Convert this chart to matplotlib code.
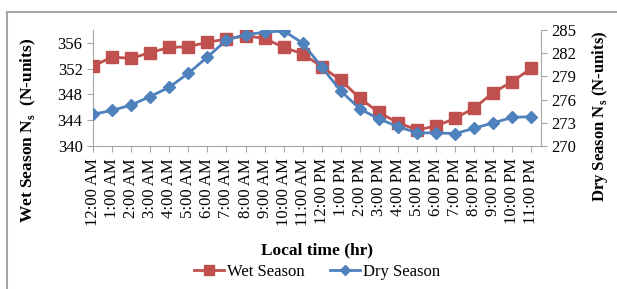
import matplotlib.pyplot as plt
from matplotlib.lines import Line2D

plt.rcParams['font.family'] = 'Liberation Serif'

# dados
horas = ['12:00 AM', '1:00 AM', '2:00 AM', '3:00 AM', '4:00 AM', '5:00 AM',
         '6:00 AM', '7:00 AM', '8:00 AM', '9:00 AM', '10:00 AM', '11:00 AM',
         '12:00 PM', '1:00 PM', '2:00 PM', '3:00 PM', '4:00 PM', '5:00 PM',
         '6:00 PM', '7:00 PM', '8:00 PM', '9:00 PM', '10:00 PM', '11:00 PM']
wet = [352.4, 353.8, 353.6, 354.5, 355.3, 355.4, 356.1, 356.6, 357.1, 356.7,
       355.3, 354.3, 352.3, 350.2, 347.4, 345.2, 343.6, 342.5, 343.1, 344.3,
       345.9, 348.3, 350.0, 352.1]
dry = [274.1, 274.6, 275.3, 276.4, 277.6, 279.4, 281.5, 283.7, 284.4, 284.7,
       284.9, 283.3, 280.2, 277.1, 274.8, 273.5, 272.5, 271.7, 271.7, 271.6,
       272.3, 273.0, 273.7, 273.8]

cor_wet = '#C0504D'
cor_dry = '#4F81BD'
cinza = '#A6A6A6'

fig = plt.figure(figsize=(6.17, 2.89), dpi=100)
ax = fig.add_axes([93/617, 1-146/289, (541-93)/617, (146-30)/289])
ax2 = ax.twinx()

x = list(range(len(horas)))
ax.plot(x, wet, color=cor_wet, marker='s', markersize=8, linewidth=2, zorder=3)
ax2.plot(x, dry, color=cor_dry, marker='D', markersize=6, linewidth=2, zorder=3)

ax.set_xlim(0, 23.5)
ax.set_ylim(340, 358)
ax.set_yticks([340, 344, 348, 352, 356])
ax2.set_ylim(270, 285)
ax2.set_yticks([270, 273, 276, 279, 282, 285])
ax.set_xticks(x)
ax.set_xticklabels(horas, rotation=90, fontsize=12)

for a in (ax, ax2):
    for s in a.spines.values():
        s.set_visible(False)
    a.tick_params(colors=cinza, labelcolor='black', labelsize=12, length=4, width=0.8)
ax.spines['left'].set_visible(True)
ax.spines['bottom'].set_visible(True)
ax2.spines['right'].set_visible(True)
ax.spines['left'].set_color(cinza)
ax.spines['bottom'].set_color(cinza)
ax2.spines['right'].set_color(cinza)
ax.tick_params(axis='x', pad=5)

fig.text(28/617, 1-130/289, 'Wet Season N$_\\mathregular{s}$  (N-units)', rotation=90,
         ha='center', va='center', fontsize=12.5, fontweight='bold')
fig.text(600/617, 1-116/289, 'Dry Season N$_\\mathregular{s}$ (N-units)', rotation=90,
         ha='center', va='center', fontsize=12, fontweight='bold')
fig.text(317/617, 1-250/289, 'Local time (hr)', ha='center', va='center',
         fontsize=12.5, fontweight='bold')

handles = [Line2D([], [], color=cor_wet, marker='s', markersize=7, linewidth=2),
           Line2D([], [], color=cor_dry, marker='D', markersize=5, linewidth=2)]
fig.legend(handles, ['Wet Season', 'Dry Season'], loc='center',
           bbox_to_anchor=(317/617, 1-272/289), ncol=2, frameon=False,
           fontsize=12, handlelength=1.8, handletextpad=0.2, columnspacing=1.5)

# moldura cinza
fig.add_artist(Line2D([7/617, 1], [1-12/289, 1-12/289], color=cinza, linewidth=1.5))
fig.add_artist(Line2D([7/617, 7/617], [0, 1-12/289], color=cinza, linewidth=1.5))

fig.savefig('out.png', dpi=100)
